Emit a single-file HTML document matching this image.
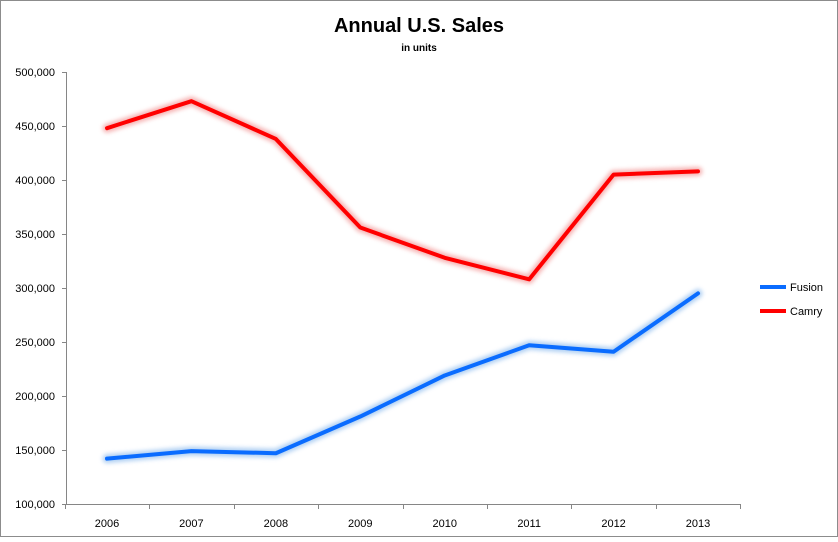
<!DOCTYPE html>
<html><head><meta charset="utf-8"><style>
html,body{margin:0;padding:0;background:#fff;}
svg text{font-family:"Liberation Sans",sans-serif;}
</style></head><body>
<svg id="chart" width="838" height="537" xmlns="http://www.w3.org/2000/svg">
<defs>
<filter id="glowB" x="-10%" y="-10%" width="120%" height="120%"><feGaussianBlur stdDeviation="2.2"/></filter>
</defs>
<rect x="0.5" y="0.5" width="837" height="536" fill="#fff" stroke="#8c8c8c"/>
<text x="419" y="32" text-anchor="middle" font-size="20" font-weight="bold" fill="#000">Annual U.S. Sales</text>
<text x="419" y="51" text-anchor="middle" font-size="10" font-weight="bold" fill="#000">in units</text>
<g id="axes"></g>
<g id="series"></g>
<g id="legend"></g>
</svg>
<script>
const years = ["2006","2007","2008","2009","2010","2011","2012","2013"];
const fusion = [142000,149000,147000,181000,219000,247000,241000,295000];
const camry = [448000,473000,438000,356000,328000,308000,405000,408000];
const yTicks = [100000,150000,200000,250000,300000,350000,400000,450000,500000];

const NS="http://www.w3.org/2000/svg";
const yMin=100000,yMax=500000,yTop=72,yBot=504;
const x0=107,x1=698;
function yS(v){return yBot-(v-yMin)/(yMax-yMin)*(yBot-yTop);}
function xS(i){return x0+i*(x1-x0)/(years.length-1);}
function mk(tag,attrs,parent){const e=document.createElementNS(NS,tag);for(const k in attrs)e.setAttribute(k,attrs[k]);parent.appendChild(e);return e;}
const axes=document.getElementById('axes');
const yAxis=mk('line',{x1:66.5,y1:yTop,x2:66.5,y2:yBot,stroke:'#868686','stroke-width':1},axes);


const xAxis=mk('line',{x1:66,y1:yBot+0.5,x2:740,y2:yBot+0.5,stroke:'#868686','stroke-width':1},axes);


yTicks.forEach(v=>{
  const y=yS(v);
  const tk=mk('line',{x1:62,y1:Math.round(y)+0.5,x2:66,y2:Math.round(y)+0.5,stroke:'#868686'},axes);
  
  
  const t=mk('text',{x:55,y:y+4,'text-anchor':'end','font-size':11,fill:'#000'},axes);
  t.textContent=v.toLocaleString('en-US');
  
  
});
const step=(x1-x0)/(years.length-1);
for(let i=0;i<=years.length;i++){
  const x=Math.round(x0-step/2+i*step)+0.5;
  const tk=mk('line',{x1:x,y1:yBot,x2:x,y2:yBot+5,stroke:'#868686'},axes);
  
  
}
years.forEach((yr,i)=>{
  const t=mk('text',{x:xS(i),y:527,'text-anchor':'middle','font-size':11,fill:'#000'},axes);
  t.textContent=yr;
  
  
});
const ser=document.getElementById('series');
function drawLine(vals,color,glow,name){
  const pts=vals.map((v,i)=>xS(i)+','+yS(v)).join(' ');
  const g=mk('polyline',{points:pts,fill:'none',stroke:glow,'stroke-width':9,'stroke-linejoin':'round','stroke-linecap':'round',filter:'url(#glowB)',opacity:0.8},ser);
  
  
  const l=mk('polyline',{points:pts,fill:'none',stroke:color,'stroke-width':4,'stroke-linejoin':'round','stroke-linecap':'round'},ser);
  
  
}
drawLine(camry,'#ff0000','#f4a0a0','camry');
drawLine(fusion,'#0a6cff','#9cc4f0','fusion');
const lg=document.getElementById('legend');
[['Fusion','#0a6cff',287],['Camry','#ff0000',311]].forEach(([n,c,y])=>{
  const l=mk('line',{x1:760,y1:y,x2:786,y2:y,stroke:c,'stroke-width':4},lg);
  
  
  const t=mk('text',{x:790,y:y+4,'font-size':11,fill:'#000'},lg);
  t.textContent=n;
  
  
});
</script>
</body></html>
